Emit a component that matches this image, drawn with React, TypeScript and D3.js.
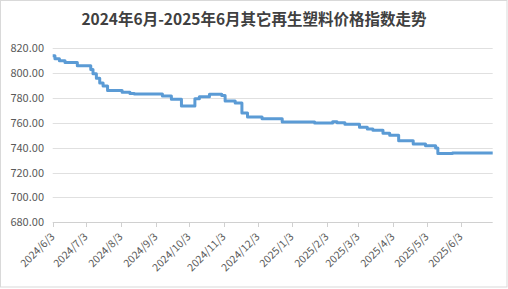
import React from "react";
import * as d3 from "d3";

const title = "2024年6月-2025年6月其它再生塑料价格指数走势";

// change points of the index (date, value)
const dates = [
  "2024-06-03", "2024-06-05", "2024-06-09", "2024-06-14", "2024-06-25",
  "2024-07-07", "2024-07-09", "2024-07-12", "2024-07-15", "2024-07-18",
  "2024-07-22", "2024-08-04", "2024-08-11", "2024-08-15", "2024-09-09",
  "2024-09-17", "2024-09-26", "2024-10-08", "2024-10-12", "2024-10-21",
  "2024-11-01", "2024-11-04", "2024-11-13", "2024-11-19", "2024-11-24",
  "2024-12-07", "2024-12-25", "2025-01-23", "2025-02-08", "2025-02-12",
  "2025-02-19", "2025-03-04", "2025-03-11", "2025-03-16", "2025-03-25",
  "2025-03-31", "2025-04-08", "2025-04-21", "2025-05-02", "2025-05-11",
  "2025-05-13", "2025-05-26", "2025-07-01",
];
const values = [
  814.0, 811.5, 810.0, 808.5, 806.0,
  803.0, 799.5, 796.0, 792.0, 789.6,
  786.0, 784.7, 783.7, 783.2, 781.6,
  779.0, 773.6, 779.5, 781.0, 783.0,
  782.0, 777.5, 776.0, 768.0, 764.8,
  763.4, 760.8, 759.8, 761.0, 760.0,
  758.8, 756.5, 755.0, 754.0, 751.7,
  750.0, 745.6, 743.0, 741.6, 739.7,
  735.3, 735.7, 735.7,
];

const yTicks = [680, 700, 720, 740, 760, 780, 800, 820];
const xTickDates = [
  "2024-06-03", "2024-07-03", "2024-08-03", "2024-09-03", "2024-10-03",
  "2024-11-03", "2024-12-03", "2025-01-03", "2025-02-03", "2025-03-03",
  "2025-04-03", "2025-05-03", "2025-06-03",
];

const parse = (s: string) => {
  const [y, m, d] = s.split("-").map(Number);
  return new Date(y, m - 1, d);
};

export default function App() {
  const W = 508, H = 289;
  const left = 52.7, right = 492.7, top = 48.3, bottom = 222.3;
  const x = d3.scaleTime().domain([parse("2024-06-03"), parse("2025-07-01")]).range([left, right]);
  const y = d3.scaleLinear().domain([680, 820]).range([bottom, top]);
  const data = dates.map((d, i) => ({ d: parse(d), v: values[i] }));
  const line = d3.line<{ d: Date; v: number }>()
    .x((p) => x(p.d))
    .y((p) => y(p.v))
    .curve(d3.curveStepAfter);
  const font = "'Microsoft YaHei','Noto Sans CJK SC','Noto Sans',sans-serif";
  const fmt = (s: string) => {
    const dt = parse(s);
    return `${dt.getFullYear()}/${dt.getMonth() + 1}/${dt.getDate()}`;
  };
  return (
    <svg width={W} height={H} style={{ position: "absolute", left: 0, top: 0, background: "#fff" }}>
      <rect x={0.5} y={0.5} width={506.5} height={286.5} fill="#fff" stroke="#d9d9d9" />
      <text x={254} y={25} textAnchor="middle" fontFamily={font} fontWeight="bold" fontSize={15.5} fill="#404040">
        {title}
      </text>
      {yTicks.map((t) => (
        <g key={t}>
          <line x1={left} x2={right} y1={Math.round(y(t)) + 0.5} y2={Math.round(y(t)) + 0.5}
            stroke={t === 680 ? "#d0d0d0" : "#e0e0e0"} strokeWidth={1} />
          <text x={44} y={y(t) + 4} textAnchor="end" fontFamily={font} fontSize={11} fill="#595959">
            {t.toFixed(2)}
          </text>
        </g>
      ))}
      {xTickDates.map((s) => {
        const xx = Math.round(x(parse(s))) + 0.5;
        return (
          <g key={s}>
            <line x1={xx} x2={xx} y1={Math.round(bottom)} y2={Math.round(bottom) + 5} stroke="#d0d0d0" />
            <text transform={`translate(${xx + 2},${bottom + 15}) rotate(-45)`} textAnchor="end"
              fontFamily={font} fontSize={10.5} fill="#595959">
              {fmt(s)}
            </text>
          </g>
        );
      })}
      <path d={line(data) || ""} fill="none" stroke="#5b9bd5" strokeWidth={3} strokeLinejoin="round" />
    </svg>
  );
}
